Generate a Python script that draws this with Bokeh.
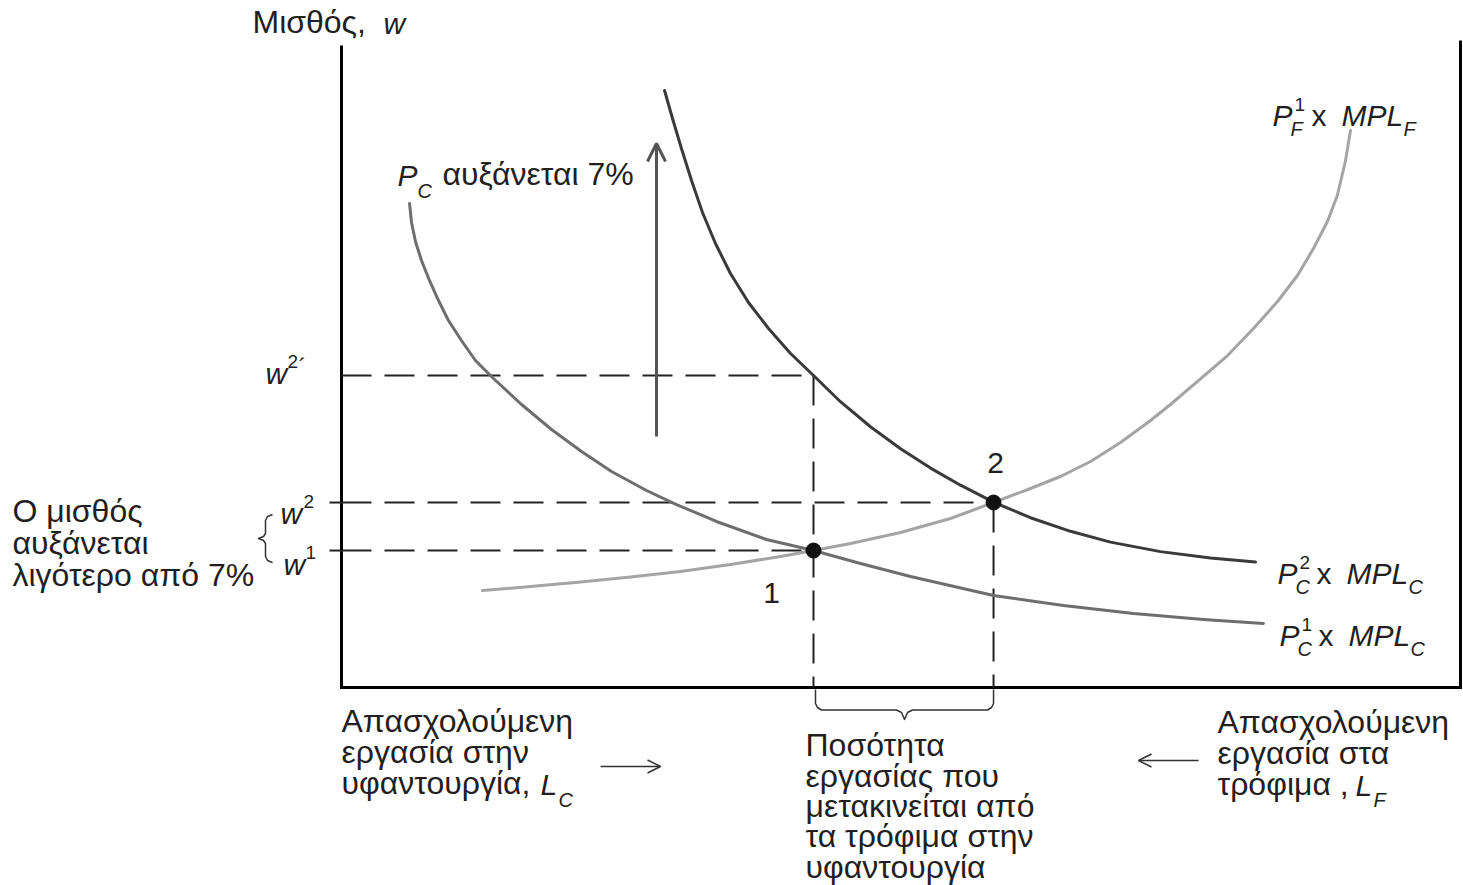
from bokeh.plotting import figure
from bokeh.models import Range1d, Arrow, OpenHead
from bokeh.embed import file_html
from bokeh.resources import INLINE
from bokeh.core.properties import value

# ---------------- data (L: labour in cloth, 0..100 ; w: wage, 0..100) ----------------
# P_C^1 x MPL_C
pc1_L = [6.08, 6.26, 6.61, 7.15, 7.86, 8.67, 9.56, 10.72, 11.97, 13.58, 16.09, 18.77, 21.45, 24.13, 27.26,
         29.94, 33.51, 37.98, 42.18, 46.38, 50.85, 58.27, 64.52, 70.78, 77.03, 82.39]
pc1_w = [74.81, 71.87, 68.93, 65.99, 62.91, 59.81, 56.72, 53.63, 50.54, 47.76, 43.74, 39.88, 36.48, 33.38, 30.45,
         28.28, 25.66, 22.88, 21.17, 19.16, 17.16, 14.22, 12.67, 11.44, 10.51, 9.89]

# P_C^2 x MPL_C
pc2_L = [28.87, 29.58, 30.38, 31.28, 32.26, 33.42, 34.76, 36.37, 38.16, 40.13, 42.18, 44.59, 47.27, 49.96,
         52.64, 55.32, 58.27, 61.57, 65.15, 68.72, 73.19, 77.66, 81.68]
pc2_w = [92.27, 87.94, 83.31, 78.36, 73.42, 68.62, 63.99, 59.51, 55.49, 51.62, 48.22, 44.17, 40.30, 36.91,
         33.91, 31.27, 28.65, 26.24, 24.14, 22.47, 21.00, 20.00, 19.38]

# P_F^1 x MPL_F
pf_L = [12.60, 16.89, 21.36, 25.83, 30.29, 34.76, 39.23, 42.18, 45.49, 49.96, 54.42, 58.27, 61.57, 64.25,
        66.94, 69.62, 72.30, 74.08, 76.50, 79.18, 81.50, 83.65, 85.43, 86.86, 88.11, 88.99, 89.71, 90.17]
pf_w = [14.99, 15.61, 16.31, 17.08, 17.93, 19.01, 20.25, 21.17, 22.26, 23.96, 26.12, 28.59, 30.76, 32.61,
        34.93, 37.87, 41.27, 43.74, 47.30, 51.31, 55.49, 59.66, 63.68, 67.85, 72.02, 76.04, 81.30, 86.09]

eq_L = [42.18, 58.27]      # equilibria 1 and 2
eq_w = [21.17, 28.59]      # w1, w2
w2_prime = 48.22           # w2'
eq_labels = ["1", "2"]

# ---------------- layout helpers (reference pixel -> data) ----------------
X0, Y0 = 341.0, 687.0
KX, KY = 11.19, 6.47
def L(px): return (px - X0) / KX
def W(py): return (Y0 - py) / KY
def PX(l): return X0 + l * KX
def PY(w): return Y0 - w * KY

FONT = "Liberation Sans"
INK = "#231f20"
BODY = 32

p = figure(width=1463, height=885, x_range=Range1d(L(0), L(1463)), y_range=Range1d(W(885), W(0)),
           output_backend="svg", toolbar_location=None, x_axis_type=None, y_axis_type=None,
           min_border=0, title=None)
p.outline_line_color = None
p.background_fill_color = "white"
p.border_fill_color = "white"

def txt(px, py, s, size=BODY, style="normal", align="left", color=INK):
    # py is the reference baseline; place the text by its middle
    p.text(x=[L(px)], y=[W(py - 0.35 * size)], text=[s], text_font=value(FONT), text_font_size=f"{size}px",
           text_font_style=style, text_align=align, text_baseline="middle", text_color=color)

# ---------------- axes box ----------------
p.line(x=[0, 0, 100, 100], y=[W(45), 0, 0, W(40)], line_color="black", line_width=3, line_join="miter")

# ---------------- dashed guide lines ----------------
w1, w2 = eq_w
L1, L2 = eq_L
DASH = "30 13"
p.segment(x0=[0, 0, 0], y0=[w2_prime, w2, w1], x1=[L1, L2, L1], y1=[w2_prime, w2, w1],
          line_color="#222222", line_width=2, line_dash=DASH)
p.segment(x0=[L1, L2], y0=[w2_prime, w2], x1=[L1, L2], y1=[0, 0],
          line_color="#222222", line_width=2, line_dash=DASH)
# small ticks left of the axis at w1, w2
p.segment(x0=[L(329), L(329)], y0=[w1, w2], x1=[0, 0], y1=[w1, w2], line_color="#222222", line_width=2)

# ---------------- curves ----------------
p.line(pc1_L, pc1_w, line_color="#6e6e6e", line_width=3, line_join="round", line_cap="round")
p.line(pf_L, pf_w, line_color="#a4a4a4", line_width=3, line_join="round", line_cap="round")
p.line(pc2_L, pc2_w, line_color="#3a3a3a", line_width=3, line_join="round", line_cap="round")

p.scatter(eq_L, eq_w, size=15, color="#111111")

# ---------------- arrow: P_C rises 7% ----------------
p.add_layout(Arrow(end=OpenHead(size=18, line_color="#555555", line_width=3),
                   x_start=L(656), y_start=W(436), x_end=L(656), y_end=W(143),
                   line_color="#555555", line_width=3))
# bottom direction arrows
p.add_layout(Arrow(end=OpenHead(size=13, line_color="#333333", line_width=1.5),
                   x_start=L(600), y_start=W(766), x_end=L(660), y_end=W(766),
                   line_color="#333333", line_width=1.5))
p.add_layout(Arrow(end=OpenHead(size=13, line_color="#333333", line_width=1.5),
                   x_start=L(1198), y_start=W(760), x_end=L(1138), y_end=W(760),
                   line_color="#333333", line_width=1.5))

# ---------------- braces ----------------
t, b = PY(w2) + 12, PY(w1) + 12
m = (t + b) / 2
brace_px = [(272, t), (267, t + 2), (265, t + 6), (265, m - 5), (263, m - 2), (258, m),
            (263, m + 2), (265, m + 5), (265, b - 6), (267, b - 2), (272, b)]
p.line([L(a) for a, _ in brace_px], [W(c) for _, c in brace_px], line_color="#333333", line_width=1.5,
       line_join="round")
xa, xb = PX(L1) + 2, PX(L2)
xm = (xa + xb) / 2
bracket_px = [(xa, 689), (xa, 703), (xa + 2, 707), (xa + 6, 709.5), (xm - 8, 709.5), (xm - 3, 712),
              (xm, 719), (xm + 3, 712), (xm + 8, 709.5), (xb - 6, 709.5), (xb - 2, 707), (xb, 703), (xb, 689)]
p.line([L(a) for a, _ in bracket_px], [W(c) for _, c in bracket_px], line_color="#333333", line_width=1.5,
       line_join="round")

# ---------------- texts ----------------
txt(252, 33, "Μισθός,")
txt(383, 33, "w", style="italic", size=30)

txt(397, 185, "P", style="italic", size=30)
txt(417, 197, "C", style="italic", size=20)
txt(442, 185, "αυξάνεται 7%")

for i, s in enumerate(["Ο μισθός", "αυξάνεται", "λιγότερο από 7%"]):
    txt(12, 522 + 32 * i, s)

# w labels
txt(265, 383, "w", style="italic", size=30)
txt(287, 368, "2", size=19)
txt(298, 374, "´", size=24)
txt(280, 523, "w", style="italic", size=30)
txt(303, 508, "2", size=19)
txt(283, 574, "w", style="italic", size=30)
txt(305, 559, "1", size=19)

# equilibrium numbers
p.text(x=[L(771), L(995)], y=[W(592), W(462)], text=eq_labels,
       text_font=value(FONT), text_font_size="30px", text_align="center", text_baseline="middle",
       text_color=INK)

# curve labels
def curve_label(px, py, sup, sub):
    txt(px, py, "P", style="italic", size=30)
    txt(px + 22, py - 14, sup, size=19)
    txt(px + 18, py + 10, sub, style="italic", size=20)
    txt(px + 39, py, "x", size=30)
    txt(px + 69, py, "MPL", style="italic", size=30)
    txt(px + 131, py + 10, sub, style="italic", size=20)

curve_label(1272, 125, "1", "F")
curve_label(1277, 583, "2", "C")
curve_label(1279, 645, "1", "C")

# bottom texts
for i, s in enumerate(["Απασχολούμενη", "εργασία στην", "υφαντουργία,"]):
    txt(341, 732 + 31 * i, s)
txt(540, 794, "L", style="italic", size=30)
txt(558, 806, "C", style="italic", size=20)

for i, s in enumerate(["Ποσότητα", "εργασίας που", "μετακινείται από", "τα τρόφιμα στην", "υφαντουργία"]):
    txt(805, 756 + 30.3 * i, s)

for i, s in enumerate(["Απασχολούμενη", "εργασία στα", "τρόφιμα ,"]):
    txt(1217, 733 + 31 * i, s)
txt(1355, 795, "L", style="italic", size=30)
txt(1373, 806, "F", style="italic", size=20)

open("out.html", "w").write(file_html(p, INLINE))
